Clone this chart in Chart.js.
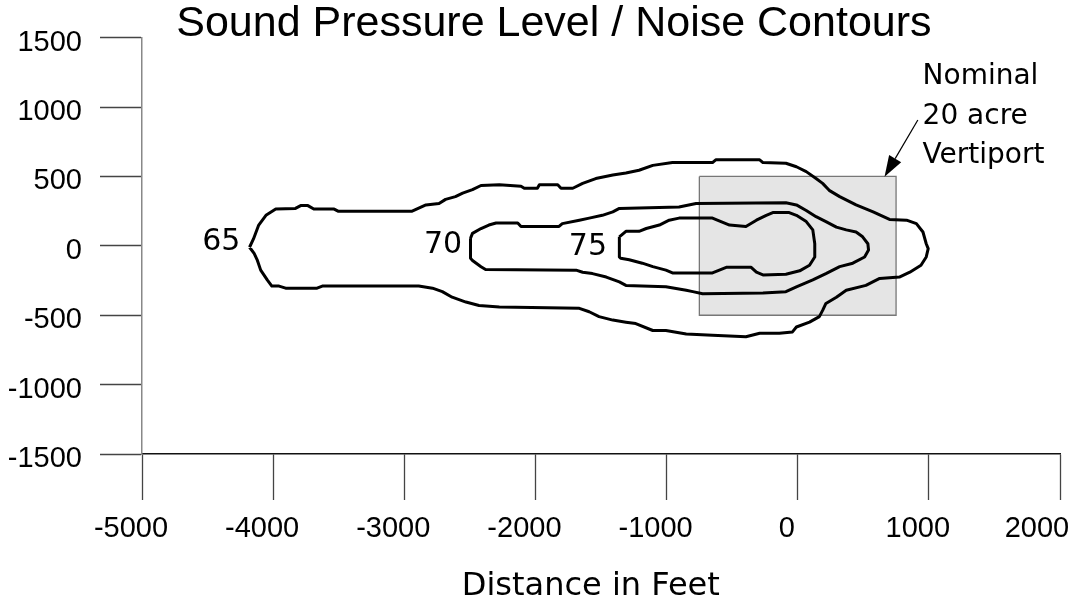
<!DOCTYPE html>
<html>
<head>
<meta charset="utf-8">
<title>Sound Pressure Level / Noise Contours</title>
<script src="https://cdn.jsdelivr.net/npm/chart.js@4.4.0/dist/chart.umd.min.js"></script>
<style>
  html, body { margin: 0; padding: 0; background: #fff; }
  #wrap { width: 1071px; height: 603px; }
</style>
</head>
<body>
<div id="wrap"><canvas id="noiseChart" width="1071" height="603"></canvas></div>
<script>
// contour outlines in feet (each one is a closed loop)
const c65X = [-4180,-4150,-4110,-4055,-3980,-3830,-3790,-3735,-3690,-3535,-3505,-2940,-2835,-2735,-2685,-2610,-2555,-2480,-2415,-2275,-2110,-2085,-1985,-1970,-1830,-1805,-1715,-1640,-1540,-1410,-1310,-1210,-1105,-955,-650,-625,-290,-265,-90,-10,65,140,190,240,320,445,575,700,830,905,955,980,995,980,940,855,775,625,520,370,295,215,190,165,90,-10,-40,-140,-290,-395,-650,-850,-1005,-1105,-1235,-1310,-1410,-1515,-1590,-1665,-2275,-2430,-2530,-2635,-2710,-2785,-2890,-3625,-3665,-3905,-3955,-4010,-4045,-4095,-4120,-4145]
const c65Y = [-10,50,150,220,265,270,290,290,265,265,250,250,295,305,335,355,380,405,435,440,430,415,415,440,440,415,415,450,485,510,525,545,580,600,600,620,620,600,595,570,535,485,450,400,355,295,245,190,185,160,100,15,-20,-80,-140,-190,-225,-235,-285,-320,-370,-415,-465,-510,-550,-585,-620,-630,-630,-655,-645,-635,-610,-610,-560,-550,-535,-510,-475,-450,-440,-430,-405,-370,-330,-305,-290,-290,-305,-305,-290,-290,-245,-175,-105,-55]

const c70X = [-2495,-2480,-2415,-2355,-2300,-2135,-2110,-1820,-1795,-1665,-1590,-1490,-1410,-1360,-905,-775,-90,-10,65,140,215,295,370,445,495,535,540,510,420,320,215,115,-10,-90,-265,-725,-800,-850,-1005,-1310,-1360,-1460,-1565,-1640,-1690,-2380,-2415,-2480,-2495]
const c70Y = [55,90,125,150,165,165,140,140,160,185,200,220,245,270,280,305,310,295,255,210,175,135,115,100,65,15,-30,-80,-125,-150,-200,-245,-295,-330,-340,-345,-330,-320,-295,-285,-260,-225,-200,-190,-175,-170,-150,-105,-90]

const c75X = [-1360,-1310,-1210,-1155,-1055,-980,-905,-650,-520,-395,-315,-240,-190,-65,-10,65,115,130,130,90,15,-90,-265,-315,-355,-545,-650,-955,-1005,-1105,-1185,-1285,-1350,-1360]
const c75Y = [65,105,105,125,150,185,200,200,150,140,185,220,240,240,220,175,115,15,-80,-140,-180,-205,-210,-190,-155,-155,-195,-195,-175,-150,-125,-100,-90,-80]

// nominal 20 acre vertiport footprint
const padX = [-750, 750, 750, -750, -750]
const padY = [500, 500, -500, -500, 500]

const xTickValues = [-5000, -4000, -3000, -2000, -1000, 0, 1000, 2000]
const xTickLabels = ['-5000', '-4000', '-3000', '-2000', '-1000', '0', '1000', '2000']
const yTickValues = [-1500, -1000, -500, 0, 500, 1000, 1500]
const yTickLabels = ['-1500', '-1000', '-500', '0', '500', '1000', '1500']

// contour level labels, placed in feet
const levelText = ['65', '70', '75']
const levelAtX = [-4395, -2705, -1600]
const levelAtY = [25, 5, -10]

const noteLines = ['Nominal', '20 acre', 'Vertiport']
const noteAtX = 952
const noteAtY = [1167, 878, 597]
const arrowFrom = [916, 907]
const arrowTo = [662, 498]

const toPoints = (xs, ys) => {
    const pts = xs.map((v, i) => ({x: v, y: ys[i]}))
    pts.push(pts[0])
    return pts
}

const contour = (label, xs, ys) => ({
    label: label,
    data: toPoints(xs, ys),
    borderColor: '#000',
    borderWidth: 3,
    borderJoinStyle: 'round',
    pointRadius: 0,
    fill: false,
    tension: 0,
    order: 1
})

const notesPlugin = {
    id: 'notes',
    afterDatasetsDraw(chart) {
        const {ctx, scales: {x, y}} = chart
        ctx.save()
        ctx.fillStyle = '#000'
        ctx.font = '30px "DejaVu Sans"'
        ctx.textAlign = 'center'
        ctx.textBaseline = 'middle'
        levelText.forEach((t, i) => {
            ctx.fillText(t, x.getPixelForValue(levelAtX[i]), y.getPixelForValue(levelAtY[i]))
        })

        ctx.font = '28px "DejaVu Sans"'
        ctx.textAlign = 'left'
        ctx.textBaseline = 'alphabetic'
        noteLines.forEach((t, i) => {
            ctx.fillText(t, x.getPixelForValue(noteAtX), y.getPixelForValue(noteAtY[i]))
        })

        const x0 = x.getPixelForValue(arrowFrom[0]), y0 = y.getPixelForValue(arrowFrom[1])
        const x1 = x.getPixelForValue(arrowTo[0]), y1 = y.getPixelForValue(arrowTo[1])
        const ang = Math.atan2(y1 - y0, x1 - x0)
        const headLen = 21, headW = 7
        const bx = x1 - headLen * Math.cos(ang), by = y1 - headLen * Math.sin(ang)
        ctx.strokeStyle = '#000'
        ctx.lineWidth = 1.2
        ctx.beginPath()
        ctx.moveTo(x0, y0)
        ctx.lineTo(bx, by)
        ctx.stroke()
        ctx.beginPath()
        ctx.moveTo(x1, y1)
        ctx.lineTo(bx + headW * Math.sin(ang), by - headW * Math.cos(ang))
        ctx.lineTo(bx - headW * Math.sin(ang), by + headW * Math.cos(ang))
        ctx.closePath()
        ctx.fill()
        ctx.restore()
    }
}

const tickFont = {family: 'Liberation Sans', size: 29}

new Chart(document.getElementById('noiseChart'), {
    type: 'line',
    data: {
        datasets: [
            contour('65 dB', c65X, c65Y),
            contour('70 dB', c70X, c70Y),
            contour('75 dB', c75X, c75Y),
            {
                label: 'Nominal 20 acre Vertiport',
                data: toPoints(padX, padY),
                borderColor: '#777',
                borderWidth: 1.3,
                backgroundColor: '#e5e5e5',
                pointRadius: 0,
                fill: 'shape',
                tension: 0,
                order: 5
            }
        ]
    },
    options: {
        responsive: false,
        animation: false,
        devicePixelRatio: 1,
        layout: {padding: {left: 0, right: 11, top: 0, bottom: 0}},
        plugins: {
            legend: {display: false},
            tooltip: {enabled: false},
            title: {
                display: true,
                // leading spaces push the centred title a little to the right, as in the original
                text: '    Sound Pressure Level / Noise Contours',
                color: '#000',
                font: {family: 'Liberation Sans', size: 43, weight: 'normal', lineHeight: 1},
                padding: {top: 3, bottom: -8.3}
            }
        },
        scales: {
            x: {
                type: 'linear',
                min: -5000,
                max: 2000,
                afterBuildTicks: s => { s.ticks = xTickValues.map(v => ({value: v})) },
                afterFit: s => { s.height = 149; s.paddingLeft = 0; s.paddingRight = 0 },
                ticks: {
                    font: tickFont,
                    color: '#000',
                    padding: 12,
                    labelOffset: -11,
                    maxRotation: 0,
                    minRotation: 0,
                    autoSkip: false,
                    // last label is nudged left so it stays inside the picture
                    callback: (v, i) => i === xTickLabels.length - 1 ? xTickLabels[i] + '   ' : xTickLabels[i]
                },
                grid: {drawOnChartArea: false, drawTicks: true, tickLength: 46, tickColor: '#444', tickWidth: 1.3},
                border: {color: '#111', width: 1.5},
                title: {
                    display: true,
                    text: 'Distance in Feet  ',
                    color: '#000',
                    font: {family: 'DejaVu Sans', size: 32},
                    padding: {top: 0, bottom: -3}
                }
            },
            y: {
                type: 'linear',
                min: -1500,
                max: 1500,
                afterBuildTicks: s => { s.ticks = yTickValues.map(v => ({value: v})) },
                afterFit: s => { s.width = 142; s.paddingTop = 0; s.paddingBottom = 0 },
                ticks: {
                    font: tickFont,
                    color: '#000',
                    padding: 18,
                    labelOffset: 5,
                    callback: (v, i) => yTickLabels[i]
                },
                grid: {drawOnChartArea: false, drawTicks: true, tickLength: 42, tickColor: '#444', tickWidth: 1.3},
                border: {color: '#888', width: 1.5}
            }
        }
    },
    plugins: [notesPlugin]
})
</script>
</body>
</html>
